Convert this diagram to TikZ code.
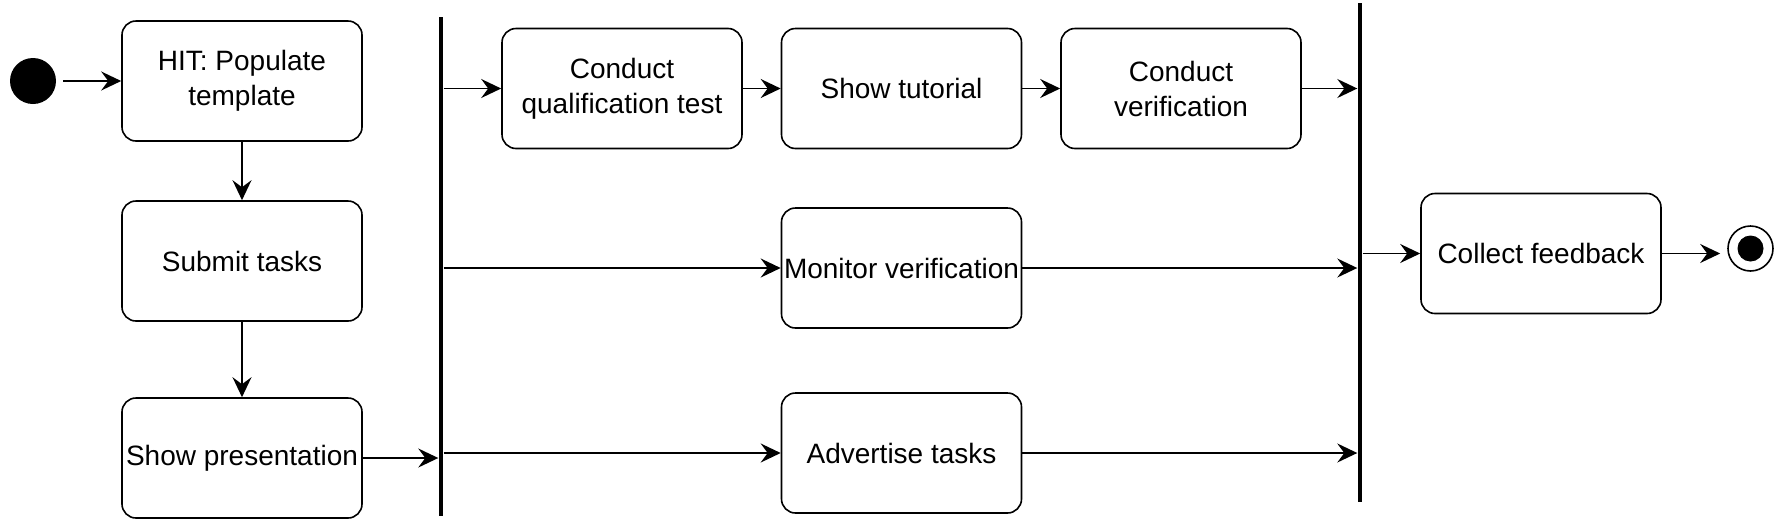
\documentclass[tikz,border=0pt]{standalone}
\usepackage{fontspec}
\setmainfont{Liberation Sans}
\usetikzlibrary{arrows.meta,calc}
\begin{document}
\begin{tikzpicture}[x=0.5pt,y=-0.5pt,
  act/.style={draw, line width=0.8pt, rounded corners=7pt, minimum width=120pt, minimum height=60pt, inner sep=1pt, align=center, font=\fontsize{14}{17.5}\selectfont},
  syncbar/.style={fill=black, draw=none, minimum width=2.3pt, inner sep=0pt, minimum height=249.5pt},
  flow/.style={line width=0.85pt, -{Stealth[length=10pt,width=9.5pt,inset=3.5pt]}},
]
\useasboundingbox (0,0) rectangle (1784,531);
% initial and final
\node[circle, fill=black, minimum size=23pt, inner sep=0pt] (start) at (33,81) {};
\node[circle, draw, line width=0.8pt, minimum size=22.5pt, inner sep=0pt] (end) at (1750.5,248.5) {};
\node[circle, fill=black, minimum size=13pt, inner sep=0pt] (endin) at (end) {};
% activities
\node[act] (hit)  at (242,81)  {HIT: Populate\\template};
\node[act] (sub)  at (242,261) {Submit tasks};
\node[act] (pres) at (242,458) {Show presentation};
\node[act] (cqt)  at (622,88.5) {Conduct\\qualification test};
\node[act] (st)   at (901.5,88.5) {Show tutorial};
\node[act] (cv)   at (1181,88.5) {Conduct\\verification};
\node[act] (mv)   at (901.5,268) {Monitor verification};
\node[act] (at)   at (901.5,453) {Advertise tasks};
\node[act] (cf)   at (1541,253.5) {Collect feedback};
% fork / join bars
\node[syncbar] (bar1) at (441,266.5) {};
\node[syncbar] (bar2) at (1360,252.5) {};
% connectors
\draw[flow, shorten <=3.5pt] (start) -- (hit);
\draw[flow] (hit) -- (sub);
\draw[flow] (sub) -- (pres);
\draw[flow] (pres.east) -- (pres.east -| bar1.west);
\draw[flow] (bar1.east |- cqt.west) -- (cqt.west);
\draw[flow] (bar1.east |- mv.west) -- (mv.west);
\draw[flow] (bar1.east |- at.west) -- (at.west);
\draw[flow] (cqt) -- (st);
\draw[flow] (st) -- (cv);
\draw[flow] (cv.east) -- (cv.east -| bar2.west);
\draw[flow] (mv.east) -- (mv.east -| bar2.west);
\draw[flow] (at.east) -- (at.east -| bar2.west);
\draw[flow] (bar2.east |- cf.west) -- (cf.west);
\draw[flow, shorten >=3.5pt] (cf.east) -- (cf.east -| end.west);
\end{tikzpicture}
\end{document}
